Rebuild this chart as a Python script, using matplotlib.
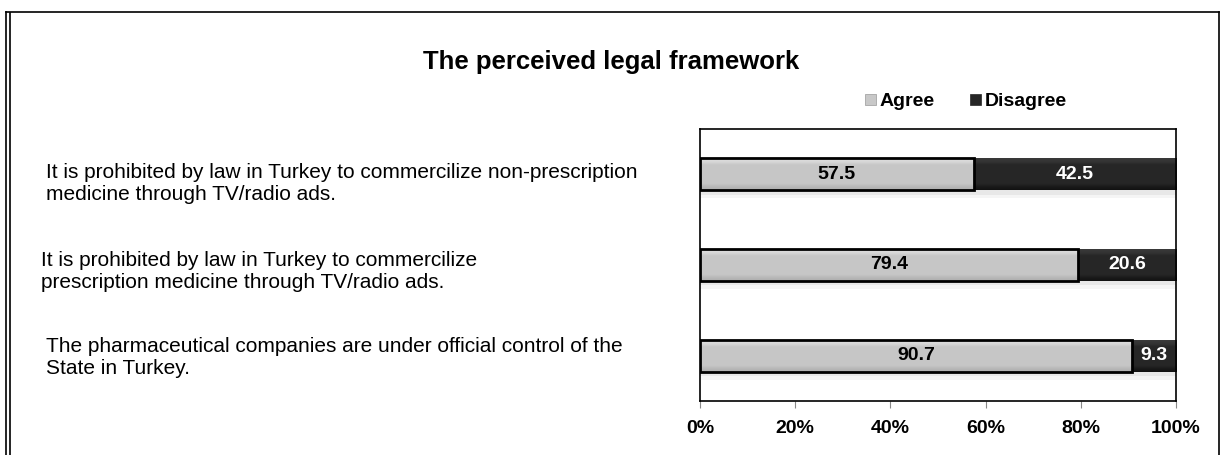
import matplotlib.pyplot as plt
import numpy as np
from matplotlib.patches import Patch

statements = [
    "It is prohibited by law in Turkey to commercilize non-prescription\nmedicine through TV/radio ads.",
    "It is prohibited by law in Turkey to commercilize\nprescription medicine through TV/radio ads.",
    "The pharmaceutical companies are under official control of the\nState in Turkey.",
]
agree = [57.5, 79.4, 90.7]
disagree = [42.5, 20.6, 9.3]
ticks = [0, 20, 40, 60, 80, 100]

plt.rcParams['font.family'] = ['Liberation Sans', 'DejaVu Sans']

fig = plt.figure(figsize=(12.21, 4.55), dpi=100)
ax = fig.add_axes([0.5733, 0.1187, 0.3898, 0.5978])

y = np.arange(len(agree))
h = 0.35

# soft shadow under the bars
for k, a in ((0.05, 0.05), (0.09, 0.04)):
    ax.barh(y + k, [100] * len(y), height=h, color='#000000', alpha=a, linewidth=0, zorder=1)

b1 = ax.barh(y, agree, height=h, color='#c8c8c8', linewidth=0, zorder=2)
b2 = ax.barh(y, disagree, left=agree, height=h, color='#262626', linewidth=0, zorder=2)

# bevel shading: light at the top edge fading to darker at the bottom
t = np.linspace(0, 1, 64)
ramp = np.interp(t, [0, 0.12, 0.2, 0.8, 0.9, 1], [1, 0.6, 0, 0, -0.6, -1])
for bars, base, amp in ((b1, 0.78, 0.1), (b2, 0.15, 0.08)):
    for bar in bars:
        x0, y0 = bar.get_x(), bar.get_y()
        w, hh = bar.get_width(), bar.get_height()
        col = base + amp * ramp
        img = np.clip(np.repeat(col[:, None, None], 3, axis=2), 0, 1)
        im = ax.imshow(img, extent=[x0, x0 + w, y0 + hh, y0], aspect='auto',
                       zorder=2.5, interpolation='bilinear')
        im.set_clip_path(bar)

# outline on the agree bars
ax.barh(y, agree, height=h, facecolor='none', edgecolor='black', linewidth=2, zorder=3)

for i in y:
    ax.text(agree[i] / 2, i, f"{agree[i]:.1f}", ha='center', va='center',
            fontsize=14, fontweight='bold', color='black', zorder=5)
    ax.text(agree[i] + disagree[i] / 2, i, f"{disagree[i]:.1f}", ha='center', va='center',
            fontsize=14, fontweight='bold', color='white', zorder=5)

ax.set_xlim(0, 100)
ax.set_ylim(2.5, -0.5)
ax.set_xticks(ticks)
ax.set_xticklabels([f"{t}%" for t in ticks], fontsize=14, fontweight='bold')
ax.set_yticks([])
ax.tick_params(axis='x', length=5, color='#888888', pad=9)
for s in ax.spines.values():
    s.set_color('black')
    s.set_linewidth(1.2)

# category statements on the left
label_pos = [(46, 183), (41, 272), (46, 357)]
for txt, (px, py) in zip(statements, label_pos):
    fig.text(px / 1221, 1 - py / 455, txt, ha='left', va='center',
             fontsize=15, linespacing=1.2)

fig.text(611 / 1221, 1 - 62 / 455, "The perceived legal framework",
         ha='center', va='center', fontsize=18.5, fontweight='bold')

handles = [Patch(facecolor='#c8c8c8', edgecolor='#999999', linewidth=0.5, label='Agree'),
           Patch(facecolor='#262626', edgecolor='#262626', linewidth=0.5, label='Disagree')]
fig.legend(handles=handles, loc='center', bbox_to_anchor=(966 / 1221, 1 - 102 / 455),
           ncol=2, frameon=False, prop={'weight': 'bold', 'size': 14},
           handlelength=0.55, handleheight=0.55, handletextpad=0.2, columnspacing=1.8)

# outer frame with double left edge
frame = dict(color='black', linewidth=1.2, transform=fig.transFigure)
fig.add_artist(plt.Line2D([6 / 1221, 6 / 1221], [0, 1 - 12 / 455], **frame))
fig.add_artist(plt.Line2D([10 / 1221, 10 / 1221], [0, 1 - 13 / 455], **frame))
fig.add_artist(plt.Line2D([6 / 1221, 1219 / 1221], [1 - 12 / 455, 1 - 12 / 455], **frame))
fig.add_artist(plt.Line2D([1219 / 1221, 1219 / 1221], [0, 1 - 12 / 455], **frame))

fig.savefig('out.png', dpi=100)
